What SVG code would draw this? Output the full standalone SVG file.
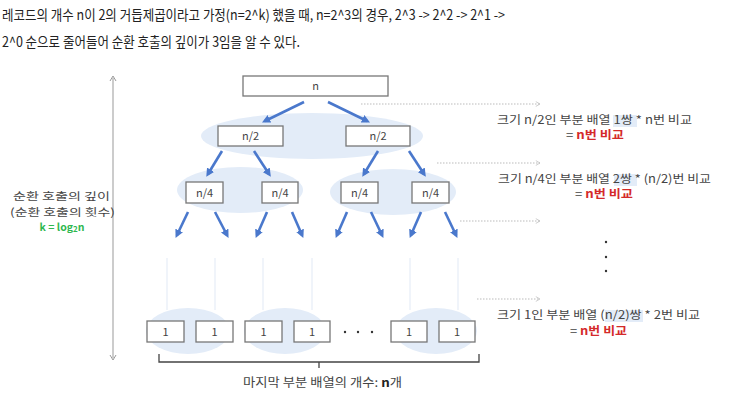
<svg xmlns="http://www.w3.org/2000/svg" width="729" height="400" viewBox="0 0 729 400">
<style>
text{font-family:"Noto Sans CJK KR","Noto Sans",sans-serif;fill:#444}
.top{font-size:14px;fill:#222}
.box{fill:#fff;stroke:#777;stroke-width:1.3}
.ell{fill:#e3ecf8}
.lbl{font-size:11px;text-anchor:middle}
.arr{stroke:#4a78cc;stroke-width:2.6;marker-end:url(#ah)}
.dot{stroke:#bbb;stroke-width:1;stroke-dasharray:1.5 1.5;marker-end:url(#oh)}
.vl{stroke:#e6edf7;stroke-width:1.2}
.rt{font-size:11.5px}
.lt{font-size:10.5px}
.red{fill:#d42a2a;font-weight:bold}
.hl{fill:#e3ecf8}
</style>
<defs>
<marker id="ah" viewBox="0 0 10 10" refX="6" refY="5" markerWidth="3.2" markerHeight="3.2" orient="auto"><path d="M0,0 L10,5 L0,10 z" fill="#4a78cc"/></marker>
<marker id="oh" viewBox="0 0 10 10" refX="9" refY="5" markerWidth="6" markerHeight="6" orient="auto" markerUnits="userSpaceOnUse"><path d="M2,1 L9,5 L2,9" fill="none" stroke="#bbb" stroke-width="1.2"/></marker>
</defs>
<g id="intro">
<text class="top" x="2" y="20" textLength="503" lengthAdjust="spacingAndGlyphs">레코드의 개수 n이 2의 거듭제곱이라고 가정(n=2^k) 했을 때, n=2^3의 경우, 2^3 -&gt; 2^2 -&gt; 2^1 -&gt;</text>
<text class="top" x="2" y="47" textLength="298" lengthAdjust="spacingAndGlyphs">2^0 순으로 줄어들어 순환 호출의 깊이가 3임을 알 수 있다.</text>
</g>
<g id="axis">
<line x1="113" y1="78" x2="113" y2="358" stroke="#999" stroke-width="1"/>
<path d="M110,81 L113,76 L116,81" fill="none" stroke="#999" stroke-width="1"/>
<path d="M110,355 L113,360 L116,355" fill="none" stroke="#999" stroke-width="1"/>
<text class="lt" x="13" y="200" textLength="97" lengthAdjust="spacingAndGlyphs">순환 호출의 깊이</text>
<text class="lt" x="10" y="215.5" textLength="105" lengthAdjust="spacingAndGlyphs">(순환 호출의 횟수)</text>
<text x="62" y="231" style="font-size:10.5px;fill:#2fb84f;font-weight:bold" text-anchor="middle">k = log<tspan style="font-size:8px" dy="1">2</tspan><tspan dy="-1">n</tspan></text>
</g>
<g id="groups">
<ellipse class="ell" cx="312" cy="136" rx="111" ry="23"/>
<ellipse class="ell" cx="240" cy="190" rx="63" ry="23"/>
<ellipse class="ell" cx="393" cy="192" rx="63" ry="23"/>
<ellipse class="ell" cx="188" cy="331" rx="42" ry="23"/>
<ellipse class="ell" cx="285" cy="331" rx="41" ry="23"/>
<ellipse class="ell" cx="436" cy="331" rx="41" ry="23"/>
</g>
<g id="connectors">
<line class="arr" x1="304" y1="102" x2="265" y2="121"/>
<line class="arr" x1="328" y1="102" x2="367" y2="121"/>
<line class="arr" x1="222" y1="151" x2="208" y2="174"/>
<line class="arr" x1="254" y1="151" x2="269" y2="174"/>
<line class="arr" x1="378" y1="151" x2="364" y2="174"/>
<line class="arr" x1="409" y1="151" x2="424" y2="174"/>
<line class="arr" x1="188" y1="212" x2="177" y2="235"/>
<line class="arr" x1="215" y1="212" x2="227" y2="235"/>
<line class="arr" x1="267" y1="212" x2="257" y2="235"/>
<line class="arr" x1="292" y1="212" x2="302" y2="235"/>
<line class="arr" x1="347" y1="212" x2="337" y2="235"/>
<line class="arr" x1="371" y1="212" x2="382" y2="235"/>
<line class="arr" x1="421" y1="212" x2="411" y2="235"/>
<line class="arr" x1="445" y1="212" x2="456" y2="235"/>
<line class="vl" x1="167" y1="258" x2="167" y2="310"/>
<line class="vl" x1="215" y1="258" x2="215" y2="310"/>
<line class="vl" x1="263" y1="258" x2="263" y2="310"/>
<line class="vl" x1="312" y1="258" x2="312" y2="310"/>
<line class="vl" x1="410" y1="258" x2="410" y2="310"/>
<line class="vl" x1="458" y1="258" x2="458" y2="310"/>
<line class="dot" x1="361" y1="104" x2="540" y2="104"/>
<line class="dot" x1="437" y1="163" x2="540" y2="163"/>
<line class="dot" x1="460" y1="221" x2="540" y2="221"/>
<line class="dot" x1="477" y1="299" x2="540" y2="299"/>
</g>
<g id="node-n"><rect class="box" x="243" y="76" width="145" height="20"/><text class="lbl" x="315.5" y="90">n</text></g>
<g id="node-n2a"><rect class="box" x="218" y="126" width="65" height="20"/><text class="lbl" x="250.5" y="140">n/2</text></g>
<g id="node-n2b"><rect class="box" x="346" y="126" width="64" height="20"/><text class="lbl" x="378" y="140">n/2</text></g>
<g id="node-n4a"><rect class="box" x="186" y="182" width="37" height="21"/><text class="lbl" x="204.5" y="196.5">n/4</text></g>
<g id="node-n4b"><rect class="box" x="262" y="182" width="36" height="21"/><text class="lbl" x="280" y="196.5">n/4</text></g>
<g id="node-n4c"><rect class="box" x="341" y="182" width="37" height="21"/><text class="lbl" x="359.5" y="196.5">n/4</text></g>
<g id="node-n4d"><rect class="box" x="412" y="182" width="37" height="21"/><text class="lbl" x="430.5" y="196.5">n/4</text></g>
<g id="node-1a"><rect class="box" x="147" y="321" width="37" height="21"/><text class="lbl" x="165.5" y="335.5">1</text></g>
<g id="node-1b"><rect class="box" x="196" y="321" width="37" height="21"/><text class="lbl" x="214.5" y="335.5">1</text></g>
<g id="node-1c"><rect class="box" x="245" y="321" width="37" height="21"/><text class="lbl" x="263.5" y="335.5">1</text></g>
<g id="node-1d"><rect class="box" x="294" y="321" width="36" height="21"/><text class="lbl" x="312" y="335.5">1</text></g>
<g id="node-1e"><rect class="box" x="391" y="321" width="36" height="21"/><text class="lbl" x="409" y="335.5">1</text></g>
<g id="node-1f"><rect class="box" x="439" y="321" width="36" height="21"/><text class="lbl" x="457" y="335.5">1</text></g>
<g id="hdots" fill="#333">
<circle cx="345" cy="332" r="1.2"/><circle cx="358" cy="332" r="1.2"/><circle cx="372" cy="332" r="1.2"/>
</g>
<g id="brace">
<path d="M159,354 L159,362 L479,362 L479,354 M319,362 L319,368" fill="none" stroke="#444" stroke-width="1.3"/>
<text x="243" y="387" style="font-size:12.5px" textLength="159" lengthAdjust="spacingAndGlyphs">마지막 부분 배열의 개수: <tspan style="font-weight:bold;fill:#222">n</tspan>개</text>
</g>
<g id="notes">
<rect class="hl" x="613" y="115" width="24" height="12"/>
<text class="rt" x="497" y="124" textLength="195" lengthAdjust="spacingAndGlyphs">크기 n/2인 부분 배열 1쌍 * n번 비교</text>
<text class="rt" x="566" y="139" textLength="58" lengthAdjust="spacingAndGlyphs">= <tspan class="red">n번 비교</tspan></text>
<rect class="hl" x="614" y="174" width="23" height="12"/>
<text class="rt" x="498" y="183" textLength="213" lengthAdjust="spacingAndGlyphs">크기 n/4인 부분 배열 2쌍 * (n/2)번 비교</text>
<text class="rt" x="575" y="198" textLength="58" lengthAdjust="spacingAndGlyphs">= <tspan class="red">n번 비교</tspan></text>
<circle cx="606" cy="242" r="1.2" fill="#333"/><circle cx="606" cy="257" r="1.2" fill="#333"/><circle cx="606" cy="271" r="1.2" fill="#333"/>
<rect class="hl" x="605" y="310" width="38" height="12"/>
<text class="rt" x="497" y="319" textLength="203" lengthAdjust="spacingAndGlyphs">크기 1인 부분 배열 (n/2)쌍 * 2번 비교</text>
<text class="rt" x="570" y="335" textLength="57" lengthAdjust="spacingAndGlyphs">= <tspan class="red">n번 비교</tspan></text>
</g>
</svg>
